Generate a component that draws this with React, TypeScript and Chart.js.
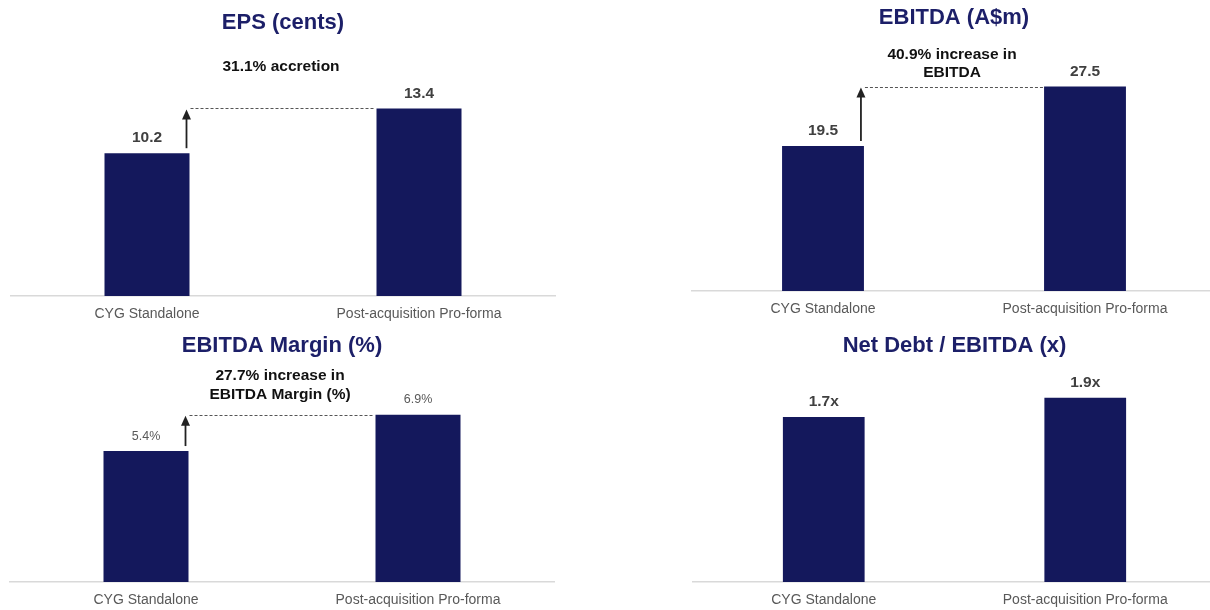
import React, { useEffect, useRef } from 'react';
import { Chart, registerables } from 'chart.js';

Chart.register(...registerables);

// ---- Data ----
const categories = ['CYG Standalone', 'Post-acquisition Pro-forma'];
const epsValues = [10.2, 13.4];
const ebitdaValues = [19.5, 27.5];
const marginValues = [5.4, 6.9];
const netDebtValues = [1.7, 1.9];

const titles = ['EPS (cents)', 'EBITDA (A$m)', 'EBITDA Margin (%)', 'Net Debt / EBITDA (x)'];
const epsNote = ['31.1% accretion'];
const ebitdaNote = ['40.9% increase in', 'EBITDA'];
const marginNote = ['27.7% increase in', 'EBITDA Margin (%)'];
const netDebtNote: string[] = [];

// ---- Styles ----
const FONT = '"Liberation Sans", Arial, Helvetica, sans-serif';
const BAR = '#14185c';
const TITLE_COLOR = '#1c1f68';

type Cfg = {
  left: number; top: number; w: number; h: number;
  padding: { left: number; right: number; top: number; bottom: number };
  max: number;
  values: number[];
  fmt: (v: number) => string;
  valueFont: string; valueColor: string;
  title: string; titleY: number;
  note: string[]; noteY: number[];
  arrow: boolean;
};

function makeOverlay(cfg: Cfg) {
  return {
    id: 'overlay',
    afterDatasetsDraw(chart: any) {
      const ctx = chart.ctx as CanvasRenderingContext2D;
      const area = chart.chartArea;
      const cx = (area.left + area.right) / 2;
      const meta = chart.getDatasetMeta(0);
      ctx.save();
      ctx.textAlign = 'center';
      ctx.textBaseline = 'middle';
      // title
      ctx.font = `bold 22px ${FONT}`;
      ctx.fillStyle = TITLE_COLOR;
      ctx.fillText(cfg.title, cx, cfg.titleY);
      // note
      ctx.font = `bold 15.5px ${FONT}`;
      ctx.fillStyle = '#111111';
      cfg.note.forEach((t, i) => ctx.fillText(t, cx - 2, cfg.noteY[i]));
      // values
      ctx.font = cfg.valueFont;
      ctx.fillStyle = cfg.valueColor;
      const bars = meta.data.map((b: any) => b.getProps(['x', 'y', 'width'], true));
      bars.forEach((b: any, i: number) => {
        ctx.fillText(cfg.fmt(cfg.values[i]), b.x, b.y - 15);
      });
      // arrow + dashed line
      if (cfg.arrow && bars.length > 1) {
        const b0 = bars[0];
        const b1 = bars[1];
        const ax = b0.x + b0.width / 2 - 3;
        const yBottom = b0.y - 5;
        const yTip = b1.y + 1;
        ctx.strokeStyle = '#222222';
        ctx.fillStyle = '#222222';
        ctx.lineWidth = 1.8;
        ctx.beginPath();
        ctx.moveTo(ax, yBottom);
        ctx.lineTo(ax, yTip + 8);
        ctx.stroke();
        ctx.beginPath();
        ctx.moveTo(ax, yTip);
        ctx.lineTo(ax - 4.5, yTip + 10);
        ctx.lineTo(ax + 4.5, yTip + 10);
        ctx.closePath();
        ctx.fill();
        ctx.strokeStyle = '#555555';
        ctx.lineWidth = 1;
        ctx.setLineDash([3, 2]);
        ctx.beginPath();
        ctx.moveTo(ax + 4, Math.round(b1.y) + 0.5);
        ctx.lineTo(b1.x - b1.width / 2 - 1, Math.round(b1.y) + 0.5);
        ctx.stroke();
        ctx.setLineDash([]);
      }
      ctx.restore();
    },
  };
}

function Panel({ cfg }: { cfg: Cfg }) {
  const ref = useRef<HTMLCanvasElement>(null);
  useEffect(() => {
    const chart = new Chart(ref.current as HTMLCanvasElement, {
      type: 'bar',
      data: {
        labels: categories,
        datasets: [
          {
            data: cfg.values,
            backgroundColor: BAR,
            borderWidth: 0,
            barPercentage: 0.3125,
            categoryPercentage: 1,
          },
        ],
      },
      options: {
        responsive: false,
        animation: false,
        devicePixelRatio: 1,
        layout: { padding: cfg.padding },
        plugins: {
          legend: { display: false },
          tooltip: { enabled: false },
          title: { display: false },
        },
        scales: {
          x: {
            grid: { display: false, drawTicks: false },
            border: { display: true, color: '#d9d9d9', width: 1.5 },
            ticks: {
              color: '#595959',
              font: { family: FONT, size: 14 },
              padding: 10,
              maxRotation: 0,
              autoSkip: false,
            },
            afterFit: (s: any) => {
              s.height = 26;
            },
          },
          y: { display: false, min: 0, max: cfg.max },
        },
      } as any,
      plugins: [makeOverlay(cfg)],
    });
    return () => chart.destroy();
  }, []);
  return (
    <canvas
      ref={ref}
      width={cfg.w}
      height={cfg.h}
      style={{ position: 'absolute', left: cfg.left, top: cfg.top, width: cfg.w, height: cfg.h }}
    />
  );
}

const boldVal = `bold 15.5px ${FONT}`;

const panels: Cfg[] = [
  {
    left: 0, top: 0, w: 605, h: 330,
    padding: { left: 11, right: 50, top: 86, bottom: 8 },
    max: 15, values: epsValues, fmt: (v) => v.toFixed(1),
    valueFont: boldVal, valueColor: '#404040',
    title: titles[0], titleY: 23, note: epsNote, noteY: [67], arrow: true,
  },
  {
    left: 605, top: 0, w: 611, h: 330,
    padding: { left: 87, right: 0, top: 68, bottom: 13 },
    max: 30, values: ebitdaValues, fmt: (v) => v.toFixed(1),
    valueFont: boldVal, valueColor: '#404040',
    title: titles[1], titleY: 18, note: ebitdaNote, noteY: [55, 73], arrow: true,
  },
  {
    left: 0, top: 325, w: 605, h: 285,
    padding: { left: 10, right: 51, top: 63, bottom: 2 },
    max: 8, values: marginValues, fmt: (v) => v.toFixed(1) + '%',
    valueFont: `12.5px ${FONT}`, valueColor: '#595959',
    title: titles[2], titleY: 21, note: marginNote, noteY: [51, 70], arrow: true,
  },
  {
    left: 605, top: 325, w: 611, h: 285,
    padding: { left: 88, right: 0, top: 63, bottom: 2 },
    max: 2, values: netDebtValues, fmt: (v) => v.toFixed(1) + 'x',
    valueFont: boldVal, valueColor: '#404040',
    title: titles[3], titleY: 21, note: netDebtNote, noteY: [], arrow: false,
  },
];

export default function App() {
  return (
    <div
      style={{
        position: 'absolute', left: 0, top: 0, width: 1210, height: 610,
        overflow: 'hidden', background: '#ffffff',
      }}
    >
      {panels.map((p, i) => (
        <Panel key={i} cfg={p} />
      ))}
    </div>
  );
}
